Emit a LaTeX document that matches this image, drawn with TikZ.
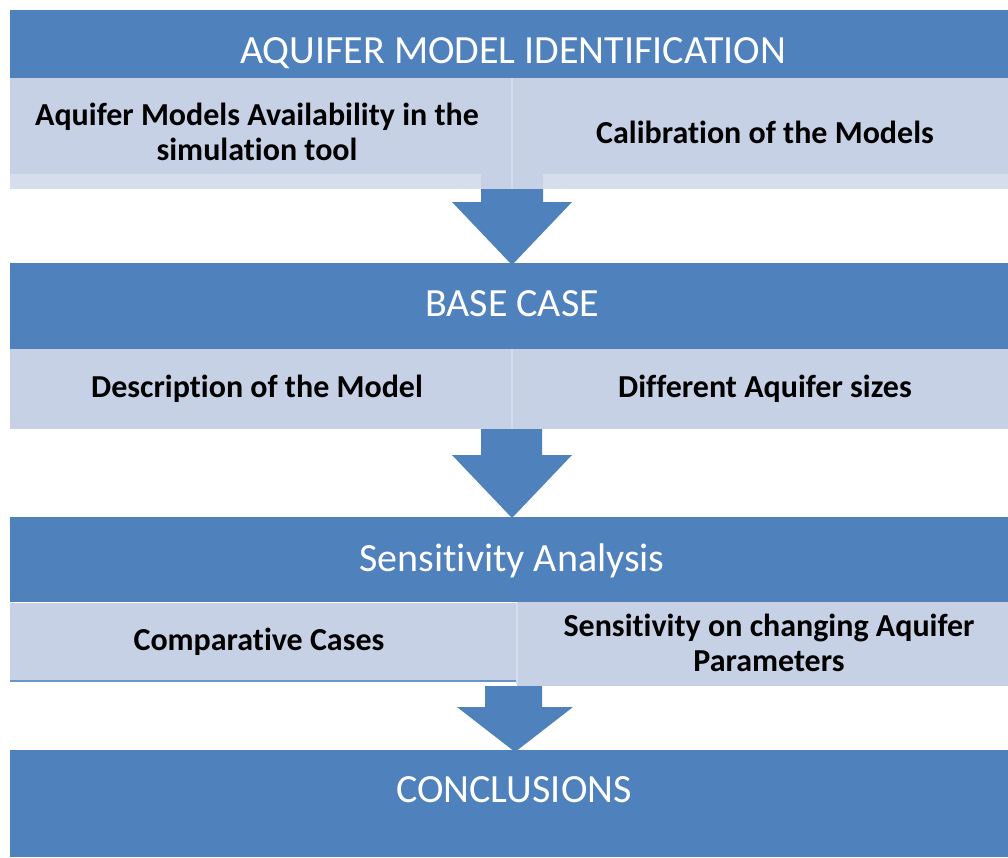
\documentclass[tikz,border=0pt]{standalone}
\usepackage{fontspec}
\setmainfont{Carlito}[Ligatures=NoCommon]
\definecolor{hdr}{HTML}{4F81BD}
\definecolor{rowc}{HTML}{C6D1E6}
\definecolor{rowlt}{HTML}{D6DEED}
\definecolor{divl}{HTML}{D5DDEC}
\definecolor{edgeln}{HTML}{6A93C8}
\tikzset{
  band/.style={fill=hdr, inner sep=0pt, outer sep=0pt, anchor=north west, minimum width=998pt},
  cell/.style={fill=rowc, inner sep=0pt, outer sep=0pt, anchor=north west},
  title/.style={text=white, inner sep=0pt, anchor=base, font=\fontsize{40}{48}\selectfont},
  celltext/.style={text=black, inner sep=0pt, anchor=base, align=center, font=\fontsize{32}{35}\selectfont\bfseries},
  blockarrow/.style={fill=hdr, draw=none},
  divider/.style={draw=divl, line width=1.5pt}
}
\begin{document}
\begin{tikzpicture}[x=1pt,y=-1pt]
\useasboundingbox (0,0) rectangle (1008,857);
% bands
\node[band, minimum height=68pt] (b1) at (10,10) {};
\node[band, minimum height=86pt] (b2) at (10,263) {};
\node[band, minimum height=85pt] (b3) at (10,517) {};
\node[band, minimum height=107pt] (b4) at (10,750) {};
% row 1
\node[cell, minimum width=502pt, minimum height=111pt] (c11) at (10,78) {};
\node[cell, minimum width=496pt, minimum height=111pt] (c12) at (512,78) {};
\fill[rowlt] (10,174) rectangle (481,189);
\fill[rowlt] (543,174) rectangle (1008,189);
\draw[divider] (512,78) -- (512,189);
% row 2
\node[cell, minimum width=502pt, minimum height=80pt] (c21) at (10,349) {};
\node[cell, minimum width=496pt, minimum height=80pt] (c22) at (512,349) {};
\draw[divider] (512,349) -- (512,429);
% row 3
\node[cell, minimum width=507pt, minimum height=79pt] (c31) at (10,603) {};
\node[cell, minimum width=491pt, minimum height=84pt] (c32) at (517,602) {};
\fill[edgeln] (10,680) rectangle (517,682);
\draw[divider] (517,603) -- (517,684);
% arrows
\coordinate (a1) at (512,189);
\coordinate (a2) at (512,429);
\coordinate (a3) at (514,686);
\fill[blockarrow] (a1) ++(-31,0) -- ++(62,0) -- ++(0,13) -- ++(29,0) -- (512,265) -- (452,202) -- (481,202) -- cycle;
\fill[blockarrow] (a2) ++(-31,0) -- ++(61,0) -- ++(0,26) -- ++(30,0) -- (512,518) -- (452,455) -- (481,455) -- cycle;
\fill[blockarrow] (a3) ++(-29,0) -- ++(57,0) -- ++(0,21) -- ++(31,0) -- (515,752) -- (457,707) -- (485,707) -- cycle;
% texts
\node[title] (t1) at (513,63) {AQUIFER MODEL IDENTIFICATION};
\node[title] (t2) at (512,316) {BASE CASE};
\node[title] (t3) at (512,571) {Sensitivity Analysis};
\node[title] (t4) at (514,802) {CONCLUSIONS};
\node[celltext] (x11) at (257,160) {Aquifer Models Availability in the\\simulation tool};
\node[celltext] (x12) at (765,143) {Calibration of the Models};
\node[celltext] (x21) at (257,397) {Description of the Model};
\node[celltext] (x22) at (765,397) {Different Aquifer sizes};
\node[celltext] (x31) at (259,650) {Comparative Cases};
\node[celltext] (x32) at (769,671) {Sensitivity on changing Aquifer\\Parameters};
\end{tikzpicture}
\end{document}
